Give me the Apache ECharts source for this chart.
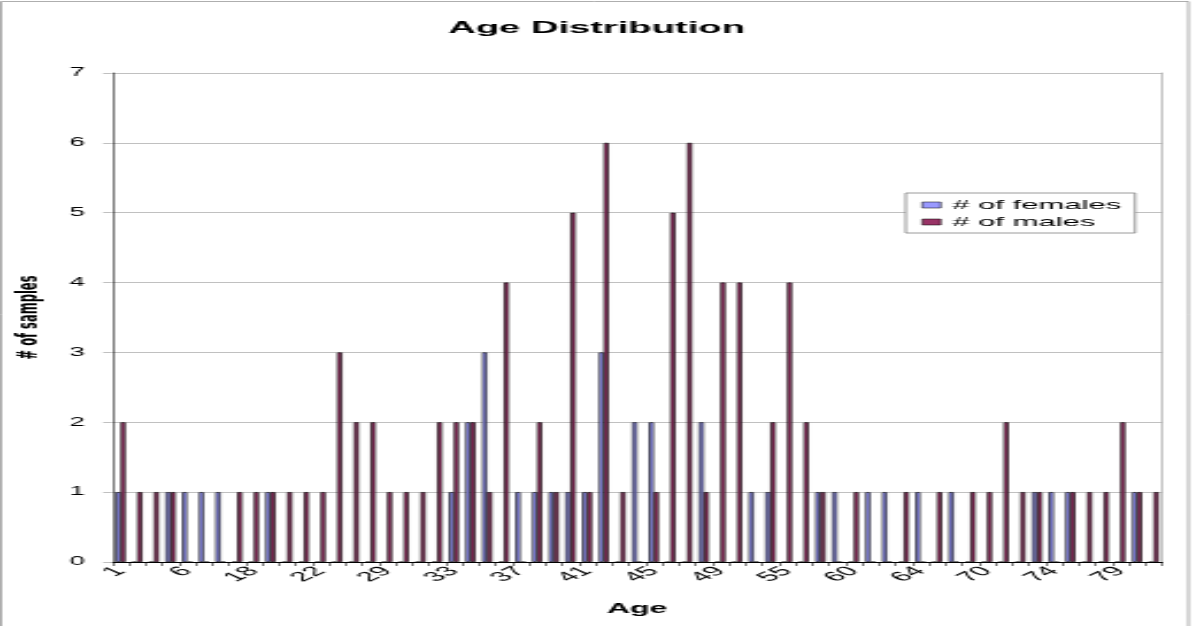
<!DOCTYPE html>
<html>
<head>
<meta charset="utf-8">
<script src="https://cdn.jsdelivr.net/npm/echarts@6/dist/echarts.min.js"></script>
<style>
html,body{margin:0;padding:0;background:#fff;overflow:hidden;width:1193px;height:626px;}
#chart{width:519px;height:626px;transform:scaleX(2.298651);transform-origin:0 0;}
</style>
</head>
<body>
<div id="chart"></div>
<script>
// Age categories (only every 4th label is shown in the reference)
const ages = ['1','3','4','5','6','10','12','15','18','19','20','21','22','24','25','27',
  '29','30','31','32','33','34','35','36','37','38','39','40','41','42','43','44',
  '45','46','47','48','49','50','51','53','55','56','57','58','60','61','62','63',
  '64','65','67','68','70','71','72','73','74','75','76','78','79','80','81'];
const females = [1,0,0,1,1,1,1,0,0,1,0,0,0,0,0,0,
  0,0,0,0,1,2,3,0,1,1,1,1,1,3,0,2,
  2,0,0,2,0,0,1,1,0,0,1,1,0,1,1,0,
  1,0,1,0,0,0,0,1,1,1,0,0,0,1,0];
const males = [2,1,1,1,0,0,0,1,1,1,1,1,1,3,2,2,
  1,1,1,2,2,2,1,4,0,2,1,5,1,6,1,0,
  1,5,6,1,4,4,0,2,4,2,1,0,1,0,0,1,
  0,1,0,1,1,2,1,1,0,1,1,1,2,1,1];
const yTicks = [0,1,2,3,4,5,6,7];

const FONT = 'Liberation Sans, Arial, sans-serif';
const chart = echarts.init(document.getElementById('chart'), null, {renderer:'canvas'});
chart.setOption({
  animation: false,
  backgroundColor: '#fff',
  title: {
    text: 'Age Distribution',
    left: 'center',
    top: 15,
    textStyle: {fontFamily: FONT, fontSize: 16.6, fontWeight: 'bold', color: '#000'}
  },
  legend: {
    data: ['# of females', '# of males'],
    orient: 'vertical',
    left: 394,
    top: 193,
    icon: 'rect',
    itemWidth: 8,
    itemHeight: 6,
    itemGap: 3,
    padding: [5, 6, 4, 7],
    borderColor: '#808080',
    borderWidth: 0.8,
    backgroundColor: '#fff',
    itemStyle: {borderColor: '#000', borderWidth: 0.5},
    textStyle: {fontFamily: FONT, fontSize: 13.5, color: '#000'}
  },
  graphic: [{
    type: 'rect',
    shape: {x: 0.5, y: 1.5, width: 516.5, height: 700},
    style: {fill: 'none', stroke: '#999', lineWidth: 0.8},
    silent: true
  }],
  grid: {
    left: 48.8, right: 13.5, top: 73, bottom: 64,
    containLabel: false,
    outerBoundsMode: 'none'
  },
  xAxis: {
    type: 'category',
    data: ages,
    name: 'Age',
    nameLocation: 'middle',
    nameGap: 40,
    nameTextStyle: {fontFamily: FONT, fontSize: 14, fontWeight: 'bold', color: '#000'},
    axisLine: {lineStyle: {color: '#000', width: 1}},
    axisTick: {show: true, interval: 0, length: 4, lineStyle: {color: '#000', width: 0.5}},
    axisLabel: {interval: 3, rotate: 45, margin: 7, fontFamily: FONT, fontSize: 13.5, color: '#000'},
    splitLine: {show: false}
  },
  yAxis: [{
    type: 'value',
    min: yTicks[0],
    max: yTicks[yTicks.length - 1],
    interval: 1,
    name: '# of samples',
    nameLocation: 'middle',
    nameRotate: 90,
    nameGap: 22,
    nameTextStyle: {fontFamily: 'DejaVu Sans, sans-serif', fontSize: 11.5, fontWeight: 'bold', color: '#000'},
    axisLine: {show: true, lineStyle: {color: '#000', width: 0.5}},
    axisTick: {show: true, length: 4, lineStyle: {color: '#c0c0c0', width: 1}},
    axisLabel: {margin: 12, fontFamily: FONT, fontSize: 12, color: '#000'},
    splitLine: {show: true, lineStyle: {color: '#c0c0c0', width: 1}}
  }, {
    type: 'value',
    position: 'right',
    min: yTicks[0],
    max: yTicks[yTicks.length - 1],
    interval: 1,
    axisLine: {show: true, lineStyle: {color: '#999', width: 0.6}},
    axisTick: {show: false},
    axisLabel: {show: false},
    splitLine: {show: false}
  }],
  series: [
    {
      name: '# of females',
      type: 'bar',
      data: females,
      barGap: '0%',
      barCategoryGap: '40%',
      itemStyle: {color: '#9999ff', borderColor: '#000', borderWidth: 0.6}
    },
    {
      name: '# of males',
      type: 'bar',
      data: males,
      barGap: '0%',
      barCategoryGap: '40%',
      itemStyle: {color: '#993366', borderColor: '#000', borderWidth: 0.6}
    }
  ]
});
</script>
</body>
</html>
